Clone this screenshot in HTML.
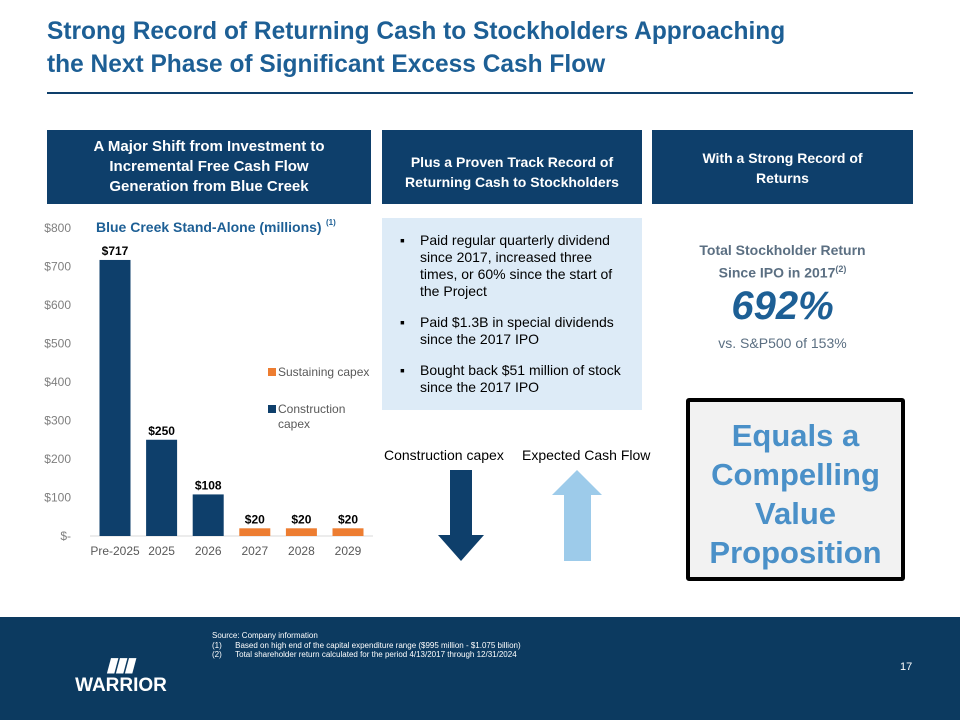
<!DOCTYPE html>
<html><head><meta charset="utf-8"><style>
body{margin:0;width:960px;height:720px;background:#fff;position:relative;overflow:hidden;font-family:"Liberation Sans","DejaVu Sans",sans-serif}
.a{position:absolute}
.hdr{background:#0e3f6b;color:#fff;font-weight:bold;font-size:14px;text-align:center;display:flex;align-items:center;justify-content:center;line-height:20px}
</style></head><body>
<div class="a" style="left:47px;top:15px;font-size:25px;font-weight:bold;color:#1d5f95;line-height:33px;transform:scaleX(0.98);transform-origin:left top">Strong Record of Returning Cash to Stockholders Approaching<br>the Next Phase of Significant Excess Cash Flow</div>
<div class="a" style="left:47px;top:92px;width:866px;height:2px;background:#0e3f6b"></div>
<div class="a hdr" style="left:47px;top:130px;width:324px;height:74px;font-size:15px">A Major Shift from Investment to<br>Incremental Free Cash Flow<br>Generation from Blue Creek</div>
<div class="a hdr" style="left:382px;top:130px;width:260px;height:74px"><div style="margin-top:10px">Plus a Proven Track Record of<br>Returning Cash to Stockholders</div></div>
<div class="a hdr" style="left:652px;top:130px;width:261px;height:74px;align-items:flex-start"><div style="margin-top:18px">With a Strong Record of<br>Returns</div></div>

<svg class="a" style="left:0;top:0" width="960" height="720" id="chart"></svg>

<div class="a" style="left:382px;top:218px;width:260px;height:192px;background:#ddebf7"></div>
<div class="a" style="left:400px;top:232px;width:225px;font-size:14px;line-height:17px;color:#000">
<div style="display:flex"><span style="width:20px;flex:none">▪</span><span>Paid regular quarterly dividend since 2017, increased three times, or 60% since the start of the Project</span></div>
<div style="display:flex;margin-top:14px"><span style="width:20px;flex:none">▪</span><span>Paid $1.3B in special dividends since the 2017 IPO</span></div>
<div style="display:flex;margin-top:14px"><span style="width:20px;flex:none">▪</span><span>Bought back $51 million of stock since the 2017 IPO</span></div>
</div>
<div class="a" style="left:652px;top:241px;width:261px;text-align:center;color:#5b6f82;font-weight:bold;font-size:14px;line-height:19px">Total Stockholder Return<br>Since IPO in 2017<sup style="font-size:9px">(2)</sup></div>
<div class="a" style="left:652px;top:284px;width:261px;text-align:center;color:#1d5f95;font-weight:bold;font-style:italic;font-size:40px">692%</div>
<div class="a" style="left:652px;top:335px;width:261px;text-align:center;color:#5b6f82;font-size:14px">vs. S&amp;P500 of 153%</div>
<div class="a" style="left:686px;top:398px;width:211px;border:4px solid #000;border-radius:3px;background:#f2f2f2;color:#4a90c8;font-weight:bold;font-size:31px;text-align:center;line-height:39px;padding-top:14px;height:161px">Equals a<br>Compelling<br>Value<br>Proposition</div>
<div class="a" style="left:384px;top:447px;font-size:14px">Construction capex</div>
<div class="a" style="left:522px;top:447px;font-size:14px">Expected Cash Flow</div>
<svg class="a" style="left:430px;top:468px" width="200" height="95">
<polygon points="20,2 42,2 42,67 54,67 31,93 8,67 20,67" fill="#0e3f6b"/>
<polygon points="147,2 172,27 161,27 161,93 134,93 134,27 122,27" fill="#9dcbea"/>
</svg>

<div class="a" style="left:0;top:617px;width:960px;height:103px;background:#0c3a60"></div>
<div class="a" style="left:72px;top:652px;color:#fff;font-weight:bold;text-align:center;width:98px">
<div style="font-size:20px;letter-spacing:-2px;transform:skewX(-15deg)">▮▮▮</div>
<div style="font-size:19px;margin-top:-2px">WARRIOR</div></div>
<div class="a" style="left:212px;top:631px;color:#fff;font-size:8px;line-height:9.5px">Source: Company information<br>(1)&nbsp;&nbsp;&nbsp;&nbsp;&nbsp;&nbsp;Based on high end of the capital expenditure range ($995 million - $1.075 billion)<br>(2)&nbsp;&nbsp;&nbsp;&nbsp;&nbsp;&nbsp;Total shareholder return calculated for the period 4/13/2017 through 12/31/2024</div>
<div class="a" style="left:900px;top:661px;color:#fff;font-size:11px">17</div>

<script>
const categories=["Pre-2025","2025","2026","2027","2028","2029"];
const values=[717,250,108,20,20,20];
const series=["construction","construction","construction","sustaining","sustaining","sustaining"];
const yTicks=[0,100,200,300,400,500,600,700,800];
const yTickLabels=["$-","$100","$200","$300","$400","$500","$600","$700","$800"];
const svg=document.getElementById('chart');const NS='http://www.w3.org/2000/svg';
const y=v=>536-v*(308/800);const xc=i=>115+i*46.6;const bw=31;
function mk(t,a,txt){const e=document.createElementNS(NS,t);for(const k in a)e.setAttribute(k,a[k]);if(txt!=null)e.textContent=txt;svg.appendChild(e);return e;}
yTicks.forEach((v,i)=>{const t=mk('text',{x:71,y:y(v)+4,'text-anchor':'end','font-size':12,fill:'#7f7f7f','font-family':'Liberation Sans'},yTickLabels[i]);

});
const ax=mk('line',{x1:90,x2:373,y1:536,y2:536,stroke:'#d9d9d9'});


categories.forEach((c,i)=>{const r=mk('rect',{x:xc(i)-bw/2,y:y(values[i]),width:bw,height:536-y(values[i]),fill:series[i]==='construction'?'#0e3f6b':'#ed7d31'});


const l=mk('text',{x:xc(i),y:y(values[i])-5,'text-anchor':'middle','font-size':12,'font-weight':'bold',fill:'#000','font-family':'Liberation Sans'},'$'+values[i]);


const t=mk('text',{x:xc(i),y:555,'text-anchor':'middle','font-size':12,fill:'#595959','font-family':'Liberation Sans'},c);

});
const ct=mk('text',{x:96,y:232,'font-size':14,'font-weight':'bold',fill:'#1d5f95','font-family':'Liberation Sans'},'Blue Creek Stand-Alone (millions)');


mk('text',{x:326,y:225,'font-size':8,'font-weight':'bold',fill:'#1d5f95','font-family':'Liberation Sans'},'(1)');
const lg1=mk('rect',{x:268,y:368,width:8,height:8,fill:'#ed7d31'});


mk('text',{x:278,y:376,'font-size':12,fill:'#595959','font-family':'Liberation Sans'},'Sustaining capex');
const lg2=mk('rect',{x:268,y:405,width:8,height:8,fill:'#0e3f6b'});


mk('text',{x:278,y:413,'font-size':12,fill:'#595959','font-family':'Liberation Sans'},'Construction');
mk('text',{x:278,y:428,'font-size':12,fill:'#595959','font-family':'Liberation Sans'},'capex');
</script>
</body></html>
